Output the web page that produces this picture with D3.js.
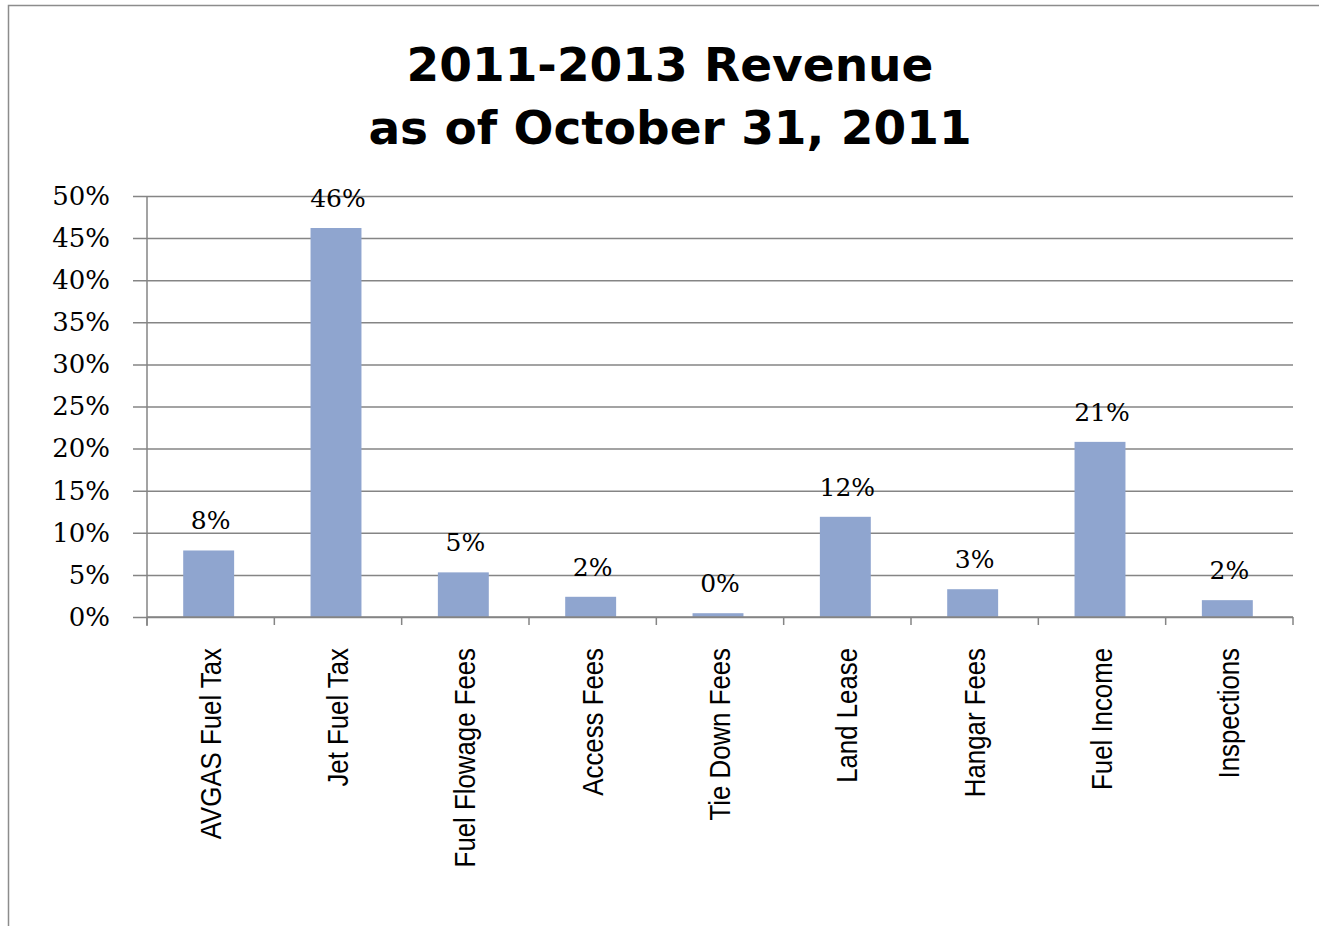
<!DOCTYPE html>
<html>
<head>
<meta charset="utf-8">
<script src="https://cdn.jsdelivr.net/npm/d3@7"></script>
<style>
  body { margin: 0; background: #fff; }
  svg { display: block; }
</style>
</head>
<body>
<div id="chart"></div>
<script>
// data
var categories = ['AVGAS Fuel Tax', 'Jet Fuel Tax', 'Fuel Flowage Fees', 'Access Fees', 'Tie Down Fees',
                  'Land Lease', 'Hangar Fees', 'Fuel Income', 'Inspections'];
var values = [0.079, 0.462, 0.053, 0.024, 0.0045, 0.119, 0.033, 0.208, 0.02];
var yTicks = [0, 0.05, 0.1, 0.15, 0.2, 0.25, 0.3, 0.35, 0.4, 0.45, 0.5];
var titleLines = ['2011-2013 Revenue', 'as of October 31, 2011'];

var width = 1319, height = 926;
var margin = {left: 147, right: 26, top: 196, bottom: 309};

var svg = d3.select('#chart').append('svg')
    .attr('width', width)
    .attr('height', height);

// chart area border
svg.append('rect')
    .attr('x', 8.5)
    .attr('y', 5.5)
    .attr('width', 1330)
    .attr('height', 940)
    .attr('fill', '#fff')
    .attr('stroke', '#8c8c8c')
    .attr('stroke-width', 1.5);

var x = d3.scaleBand()
    .domain(categories)
    .range([margin.left, width - margin.right])
    .paddingInner(0.6)
    .paddingOuter(0.3);

var y = d3.scaleLinear()
    .domain([0, 0.5])
    .range([height - margin.bottom, margin.top]);

// title
svg.append('g').selectAll('text')
    .data(titleLines)
  .enter().append('text')
    .attr('x', 670)
    .attr('y', function(d, i) { return 81 + i * 63; })
    .attr('text-anchor', 'middle')
    .style('font-family', '"DejaVu Sans", sans-serif')
    .style('font-weight', 'bold')
    .style('font-size', '47px')
    .style('fill', '#000')
    .text(function(d) { return d; });

// y axis with gridlines
var yAxis = svg.append('g')
    .attr('transform', 'translate(' + margin.left + ',0)')
    .call(d3.axisLeft(y)
      .tickValues(yTicks)
      .tickFormat(d3.format('.0%'))
      .tickSize(-(width - margin.right - margin.left))
      .tickPadding(37));
yAxis.select('.domain').remove();
yAxis.selectAll('.tick line')
    .attr('x1', -14)
    .attr('stroke', '#858585')
    .attr('stroke-width', 1.5);
yAxis.selectAll('.tick text')
    .style('font-family', '"DejaVu Serif", serif')
    .style('font-size', '26px')
    .style('fill', '#000');

// vertical axis line
svg.append('line')
    .attr('x1', margin.left).attr('x2', margin.left)
    .attr('y1', y(0.5)).attr('y2', y(0) + 9)
    .attr('stroke', '#858585')
    .attr('stroke-width', 1.5);

// bars
svg.append('g').selectAll('rect')
    .data(values)
  .enter().append('rect')
    .attr('x', function(d, i) { return x(categories[i]) - 2; })
    .attr('y', function(d) { return y(d); })
    .attr('width', x.bandwidth())
    .attr('height', function(d) { return y(0) - y(d); })
    .attr('fill', '#8fa5cf');

// value labels
svg.append('g').selectAll('text')
    .data(values)
  .enter().append('text')
    .attr('x', function(d, i) { return x(categories[i]) + x.bandwidth() / 2; })
    .attr('y', function(d) { return y(d) - 21; })
    .attr('text-anchor', 'middle')
    .style('font-family', '"DejaVu Serif", serif')
    .style('font-size', '25px')
    .style('fill', '#000')
    .text(function(d) { return Math.round(d * 100) + '%'; });

// x axis
var step = x.step();
var xAxis = svg.append('g')
    .attr('transform', 'translate(0,' + y(0) + ')');
xAxis.append('line')
    .attr('x1', margin.left).attr('x2', width - margin.right)
    .attr('stroke', '#858585')
    .attr('stroke-width', 1.5);
xAxis.selectAll('.sep')
    .data(d3.range(categories.length + 1))
  .enter().append('line')
    .attr('class', 'sep')
    .attr('x1', function(i) { return margin.left + i * step; })
    .attr('x2', function(i) { return margin.left + i * step; })
    .attr('y1', 0).attr('y2', 8)
    .attr('stroke', '#858585')
    .attr('stroke-width', 1.5);

// category labels, squeezed a little to look like a condensed face
xAxis.selectAll('.cat')
    .data(categories)
  .enter().append('text')
    .attr('class', 'cat')
    .attr('transform', function(d) {
      return 'translate(' + (x(d) + x.bandwidth() / 2 + 10) + ',31) rotate(-90) scale(0.89,1)';
    })
    .attr('text-anchor', 'end')
    .style('font-family', '"Liberation Sans", sans-serif')
    .style('font-size', '29px')
    .style('fill', '#000')
    .text(function(d) { return d; });
</script>
</body>
</html>
